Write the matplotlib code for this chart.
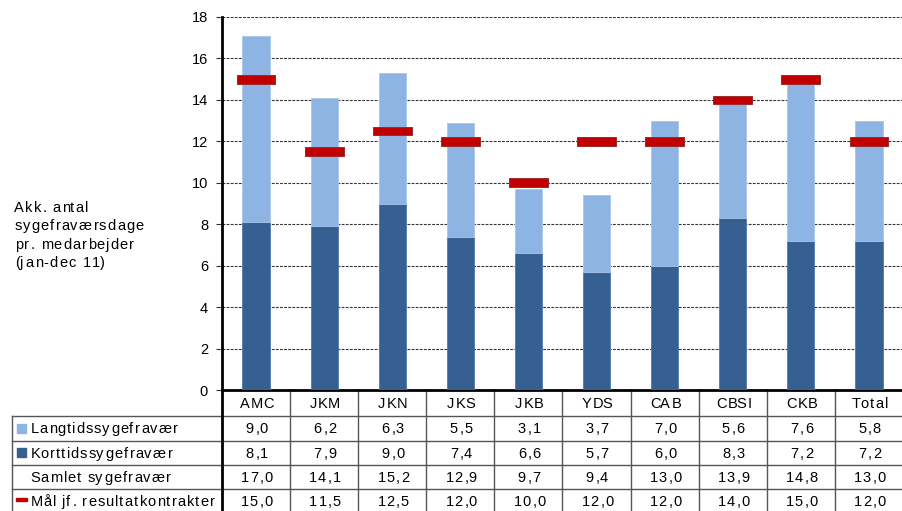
import matplotlib
matplotlib.use("Agg")
import matplotlib.pyplot as plt
from matplotlib.patches import Rectangle
from matplotlib.font_manager import FontProperties, findfont, get_font

plt.rcParams['font.family'] = ['Liberation Sans', 'DejaVu Sans']

categories = ["AMC", "JKM", "JKN", "JKS", "JKB", "YDS", "CAB", "CBSI", "CKB", "Total"]
langtid = [9.0, 6.2, 6.3, 5.5, 3.1, 3.7, 7.0, 5.6, 7.6, 5.8]
korttid = [8.1, 7.9, 9.0, 7.4, 6.6, 5.7, 6.0, 8.3, 7.2, 7.2]
samlet = [17.0, 14.1, 15.2, 12.9, 9.7, 9.4, 13.0, 13.9, 14.8, 13.0]
maal = [15.0, 11.5, 12.5, 12.0, 10.0, 12.0, 12.0, 14.0, 15.0, 12.0]
yticks = [0, 2, 4, 6, 8, 10, 12, 14, 16, 18]

row_labels = ["Langtidssygefravær", "Korttidssygefravær",
              "Samlet sygefravær", "Mål jf. resultatkontrakter"]
caption = ["Akk. antal", "sygefraværsdage", "pr. medarbejder", "(jan-dec 11)"]

C_LIGHT = "#8EB4E3"
C_DARK = "#376092"
C_RED = "#C00000"

W, H = 903, 511
DPI = 100
FS = 10.5
fig = plt.figure(figsize=(W / DPI, H / DPI), dpi=DPI)

# plot area in pixel terms
px_left, px_right, px_top, px_bottom = 222, 903, 17, 390
ax = fig.add_axes([px_left / W, (H - px_bottom) / H,
                   (px_right - px_left) / W, (px_bottom - px_top) / H])

x = list(range(len(categories)))
ax.bar(x, korttid, width=0.4, color=C_DARK, edgecolor="#4F79AD", linewidth=0.6, zorder=3)
ax.bar(x, langtid, width=0.4, bottom=korttid, color=C_LIGHT,
       edgecolor="#A9C6EA", linewidth=0.6, zorder=3)
ax.bar(x, [0.42] * len(maal), width=0.57, bottom=[m - 0.21 for m in maal],
       color=C_RED, edgecolor="#9E2A2A", linewidth=0.7, zorder=4)

ax.set_xlim(-0.5, len(categories) - 0.5)
ax.set_ylim(0, 18)
ax.set_yticks(yticks)
ax.set_yticklabels([str(v) for v in yticks], fontsize=FS)
ax.set_xticks([])
ax.yaxis.grid(True, linestyle=(0, (2.5, 1.2)), color="#333333", linewidth=0.8, zorder=0)
ax.set_axisbelow(True)
ax.tick_params(axis="y", length=4, width=0.8, pad=6, color="#333333")
for s in ("top", "right"):
    ax.spines[s].set_visible(False)
ax.spines["left"].set_linewidth(2)
ax.spines["bottom"].set_linewidth(2)
ax.patch.set_alpha(0)

# overlay in pixel coordinates for the table and caption
tab = fig.add_axes([0, 0, 1, 1], zorder=-1)
tab.set_xlim(0, W)
tab.set_ylim(H, 0)
tab.axis("off")

_prop = FontProperties(family="Liberation Sans", size=FS)
_font = get_font(findfont(_prop))


def _gap(ch):
    # letter spacing after a glyph, in pixels
    return 0.3 if ch.isupper() else 1.15


def tracked(x0, baseline, s, ha="left"):
    """Draw a string glyph by glyph with extra letter spacing."""
    _font.set_size(FS, DPI)
    adv, bear = [], []
    for ch in s:
        g = _font.load_char(ord(ch))
        adv.append(g.linearHoriAdvance / 65536)
        bear.append(g.horiBearingX / 64)
    total = sum(adv) + sum(_gap(c) for c in s[:-1])
    pen = x0 - total / 2 if ha == "center" else x0
    for ch, a, b in zip(s, adv, bear):
        if ch != " ":
            tab.text(pen + b, baseline, ch, ha="left", va="baseline",
                     fontproperties=_prop, color="black")
        pen += a + _gap(ch)


# y-axis caption, set horizontally at the left
for i, line in enumerate(caption):
    tracked(14, 212 + i * 18.3, line)

col_w = (px_right - px_left) / len(categories)
row_edges = [390, 416, 441, 465, 489]
line_col = "#555555"

# horizontal rules
for yy in row_edges[1:]:
    tab.plot([12, W], [yy, yy], color=line_col, lw=1.0)
# vertical rules
tab.plot([12, 12], [row_edges[1], H], color=line_col, lw=1.0)
tab.plot([px_left, px_left], [px_bottom, H], color="black", lw=2)
for i in range(1, len(categories)):
    xx = px_left + i * col_w
    tab.plot([xx, xx], [px_bottom, H], color=line_col, lw=1.0)

# header row with category names
for i, c in enumerate(categories):
    tracked(px_left + (i + 0.5) * col_w, 408, c, ha="center")

rows = [langtid, korttid, samlet, maal]
baselines = [433, 458, 482, 506]
for lab, vals, bl in zip(row_labels, rows, baselines):
    tracked(30, bl, lab)
    for i, v in enumerate(vals):
        tracked(px_left + (i + 0.5) * col_w, bl, f"{v:.1f}".replace(".", ","), ha="center")

# legend keys in the row headers
tab.add_patch(Rectangle((17, 424), 9, 9, color=C_LIGHT))
tab.add_patch(Rectangle((17, 448), 9, 9, color=C_DARK))
tab.add_patch(Rectangle((16, 498), 11, 3, color=C_RED))

fig.savefig("out.png", dpi=DPI)
